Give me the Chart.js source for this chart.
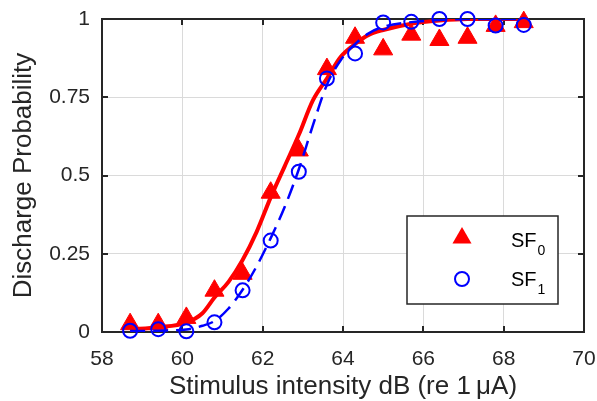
<!DOCTYPE html>
<html>
<head>
<meta charset="utf-8">
<script src="https://cdn.jsdelivr.net/npm/chart.js@4.4.1/dist/chart.umd.min.js"></script>
<style>
  html, body { margin: 0; padding: 0; background: #fff; }
  canvas { display: block; }
</style>
</head>
<body>
<canvas id="chart" width="597" height="401"></canvas>
<script>
// DATA
const intensity = [58.7, 59.4, 60.1, 60.8, 61.5, 62.2, 62.9, 63.6, 64.3, 65.0, 65.7, 66.4, 67.1, 67.8, 68.5];
const sf0 = [0.025, 0.025, 0.045, 0.132, 0.186, 0.445, 0.58, 0.84, 0.94, 0.903, 0.95, 0.933, 0.94, 0.978, 0.99];
const sf1 = [0.004, 0.009, 0.002, 0.031, 0.133, 0.292, 0.512, 0.81, 0.89, 0.989, 0.991, 1.0, 1.0, 0.979, 0.981];

// fitted curves
const fitX  = [58.7, 59.4, 60.1, 60.5, 60.8, 61.15, 61.5, 61.85, 62.2, 62.55, 62.9, 63.25, 63.6, 63.95, 64.3, 64.65, 65.0, 65.7, 66.4, 67.1, 67.8, 68.5];
const fit0  = [0.008, 0.015, 0.03, 0.06, 0.11, 0.16, 0.23, 0.32, 0.43, 0.53, 0.63, 0.74, 0.81, 0.88, 0.92, 0.95, 0.965, 0.985, 0.995, 1.0, 1.0, 1.0];
const fit1  = [0.003, 0.004, 0.008, 0.02, 0.035, 0.075, 0.135, 0.21, 0.30, 0.40, 0.52, 0.66, 0.79, 0.87, 0.92, 0.955, 0.975, 0.99, 0.997, 1.0, 1.0, 1.0];

const xTicks = [58, 60, 62, 64, 66, 68, 70];
const yTicks = [0, 0.25, 0.5, 0.75, 1];
const legendNames = ['SF', 'SF'];
const legendSubs = ['0', '1'];

const RED = '#ff0000';
const BLUE = '#0000ff';
const AXIS = '#262626';
const FONT = "'Liberation Sans', Arial, sans-serif";

const pts = (xs, ys) => xs.map((x, i) => ({ x: x, y: ys[i] }));

// axes box + inward ticks on all four sides
const frame = {
  id: 'frame',
  beforeDatasetsDraw(chart) {
    const { ctx, chartArea: a, scales: { x, y } } = chart;
    ctx.save();
    ctx.strokeStyle = AXIS;
    ctx.lineWidth = 2;
    ctx.beginPath();
    xTicks.slice(1, -1).forEach(v => {
      const px = Math.round(x.getPixelForValue(v));
      ctx.moveTo(px, a.bottom); ctx.lineTo(px, a.bottom - 6);
      ctx.moveTo(px, a.top); ctx.lineTo(px, a.top + 6);
    });
    yTicks.slice(1, -1).forEach(v => {
      const py = Math.round(y.getPixelForValue(v));
      ctx.moveTo(a.left, py); ctx.lineTo(a.left + 6, py);
      ctx.moveTo(a.right, py); ctx.lineTo(a.right - 6, py);
    });
    ctx.stroke();
    ctx.strokeRect(a.left, a.top, a.right - a.left, a.bottom - a.top);
    ctx.restore();
  }
};

// legend box in the lower right of the axes
const legendBox = {
  id: 'legendBox',
  afterDraw(chart) {
    const { ctx, chartArea: a } = chart;
    const bx = a.right - 177, by = a.top + 197, bw = 151, bh = 88;
    ctx.save();
    ctx.fillStyle = '#fff';
    ctx.fillRect(bx, by, bw, bh);
    ctx.strokeStyle = AXIS;
    ctx.lineWidth = 1.5;
    ctx.strokeRect(bx, by, bw, bh);

    // triangle
    const mx = bx + 55;
    let cy = by + 22;
    const r = 11;
    ctx.fillStyle = RED;
    ctx.beginPath();
    for (let k = 0; k < 3; k++) {
      const ang = k * 2 * Math.PI / 3;
      const px = mx + Math.sin(ang) * r, py = cy - Math.cos(ang) * r;
      if (k === 0) ctx.moveTo(px, py); else ctx.lineTo(px, py);
    }
    ctx.closePath();
    ctx.fill();

    // circle
    cy = by + 63;
    ctx.strokeStyle = BLUE;
    ctx.lineWidth = 2;
    ctx.beginPath();
    ctx.arc(mx, cy, 7, 0, 2 * Math.PI);
    ctx.stroke();

    // labels with subscripts
    ctx.fillStyle = '#000';
    ctx.textBaseline = 'alphabetic';
    const baselines = [by + 31, by + 70];
    legendNames.forEach((name, i) => {
      ctx.font = '20px ' + FONT;
      const tx = bx + 104;
      ctx.fillText(name, tx, baselines[i]);
      const w = ctx.measureText(name).width;
      ctx.font = '14px ' + FONT;
      ctx.fillText(legendSubs[i], tx + w + 1, baselines[i] + 8);
    });
    ctx.restore();
  }
};

const chart = new Chart(document.getElementById('chart'), {
  type: 'scatter',
  data: {
    datasets: [
      {
        label: 'fit SF0',
        data: pts(fitX, fit0),
        showLine: true,
        borderColor: RED,
        borderWidth: 4,
        pointRadius: 0,
        cubicInterpolationMode: 'monotone',
        order: 4
      },
      {
        label: 'SF0',
        data: pts(intensity, sf0),
        pointStyle: 'triangle',
        pointRadius: 11,
        backgroundColor: RED,
        borderColor: RED,
        borderWidth: 1,
        clip: false,
        order: 3
      },
      {
        label: 'fit SF1',
        data: pts(fitX, fit1),
        showLine: true,
        borderColor: BLUE,
        borderWidth: 2.5,
        borderDash: [15, 8],
        pointRadius: 0,
        cubicInterpolationMode: 'monotone',
        order: 2
      },
      {
        label: 'SF1',
        data: pts(intensity, sf1),
        pointStyle: 'circle',
        pointRadius: 7,
        backgroundColor: 'rgba(0,0,0,0)',
        borderColor: BLUE,
        borderWidth: 2,
        clip: false,
        order: 1
      }
    ]
  },
  options: {
    responsive: false,
    animation: false,
    devicePixelRatio: 1,
    events: [],
    layout: { padding: { left: 0, right: 13, top: 19, bottom: 0 } },
    plugins: {
      legend: { display: false },
      tooltip: { enabled: false }
    },
    scales: {
      x: {
        type: 'linear',
        min: 58,
        max: 70,
        afterBuildTicks: s => { s.ticks = xTicks.map(v => ({ value: v })); },
        afterFit: s => { s.height = 69; s.paddingLeft = 0; s.paddingRight = 0; },
        grid: { color: '#dadada', lineWidth: 1, drawTicks: false },
        border: { display: false },
        ticks: {
          font: { family: FONT, size: 21 },
          color: AXIS,
          padding: 15,
          maxRotation: 0,
          callback: v => String(v)
        },
        title: {
          display: true,
          text: 'Stimulus intensity dB (re 1\u2009\u03bcA)',
          font: { family: FONT, size: 26 },
          color: AXIS,
          padding: { top: 0, bottom: -1 }
        }
      },
      y: {
        type: 'linear',
        min: 0,
        max: 1,
        afterBuildTicks: s => { s.ticks = yTicks.map(v => ({ value: v })); },
        afterFit: s => { s.width = 102; s.paddingTop = 0; s.paddingBottom = 0; },
        grid: { color: '#dadada', lineWidth: 1, drawTicks: false },
        border: { display: false },
        ticks: {
          font: { family: FONT, size: 21 },
          color: AXIS,
          padding: 12,
          callback: v => String(v)
        },
        title: {
          display: true,
          text: 'Discharge Probability',
          font: { family: FONT, size: 26 },
          color: AXIS,
          padding: { top: 8, bottom: 0 }
        }
      }
    }
  },
  plugins: [frame, legendBox]
});
</script>
</body>
</html>
